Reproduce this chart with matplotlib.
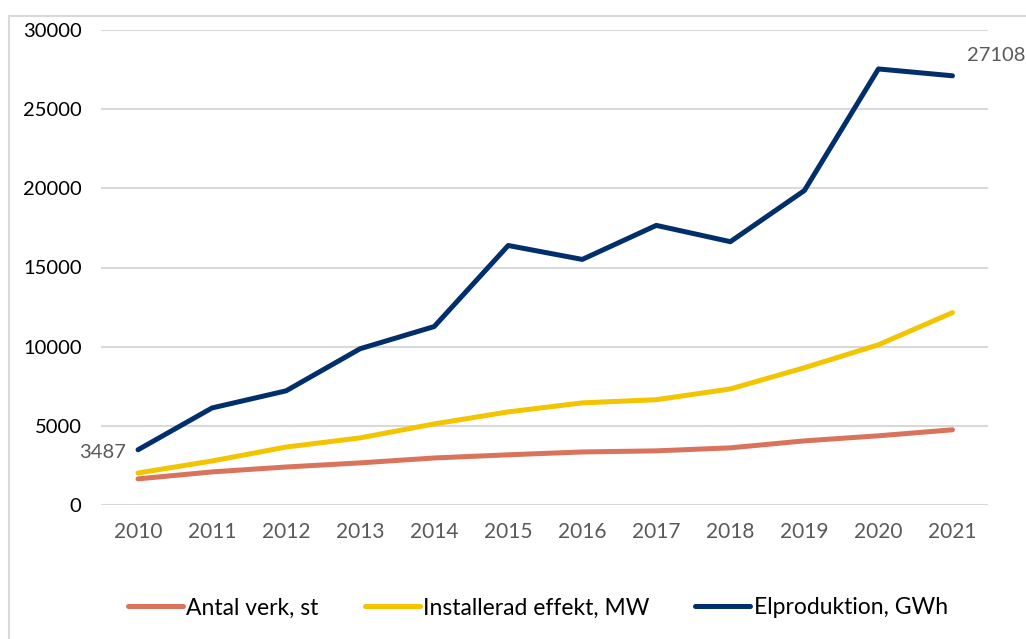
import matplotlib.pyplot as plt
from matplotlib.patches import Rectangle
import numpy as np

plt.rcParams['font.family'] = ['Lato', 'DejaVu Sans']

years = ['2010', '2011', '2012', '2013', '2014', '2015',
         '2016', '2017', '2018', '2019', '2020', '2021']
antal_verk = [1650, 2090, 2400, 2660, 2970, 3170, 3350, 3420, 3610, 4050, 4370, 4750]
installerad = [2020, 2780, 3660, 4240, 5120, 5880, 6450, 6650, 7330, 8670, 10120, 12150]
elproduktion = [3487, 6130, 7210, 9870, 11270, 16390, 15510, 17660, 16630, 19860, 27540, 27108]

COL_ANTAL = '#D9735B'
COL_INST = '#F2C500'
COL_EL = '#002F6C'


def main():
    fig = plt.figure(figsize=(10.26, 6.39), dpi=100)
    ax = fig.add_axes([101 / 1026, 134 / 639, 887 / 1026, 475 / 639])

    # outer frame, cut off at right and bottom like the screenshot
    fig.patches.append(Rectangle((9 / 1026, -0.1), 1.2, (623 / 639) + 0.1,
                                 transform=fig.transFigure, fill=False,
                                 edgecolor='#d9d9d9', lw=1.5))

    x = np.arange(len(years))
    ax.plot(x, antal_verk, color=COL_ANTAL, lw=3.6, solid_capstyle='round',
            label='Antal verk, st')
    ax.plot(x, installerad, color=COL_INST, lw=3.6, solid_capstyle='round',
            label='Installerad effekt, MW')
    ax.plot(x, elproduktion, color=COL_EL, lw=3.6, solid_capstyle='round',
            label='Elproduktion, GWh')

    ax.annotate(str(elproduktion[0]), (x[0], elproduktion[0]),
                xytext=(-12, -3), textcoords='offset pixels',
                ha='right', va='center', fontsize=14.5, color='#595959')
    ax.annotate(str(elproduktion[-1]), (x[-1], elproduktion[-1]),
                xytext=(15, 20), textcoords='offset pixels',
                ha='left', va='center', fontsize=14.5, color='#595959')

    ax.set_xlim(-0.5, len(years) - 0.52)
    ax.set_ylim(0, 30000)
    ax.set_yticks(range(0, 30001, 5000))
    ax.set_xticks(x)
    ax.set_xticklabels(years)
    ax.grid(axis='y', color='#d9d9d9', lw=1.5)
    ax.set_axisbelow(True)
    for s in ax.spines.values():
        s.set_visible(False)
    ax.tick_params(axis='both', length=0)
    ax.tick_params(axis='y', labelsize=14.5, labelcolor='black', pad=14)
    ax.tick_params(axis='x', labelsize=15, labelcolor='#595959', pad=12)

    fig.legend(loc='center', bbox_to_anchor=(538 / 1026, 1 - 608 / 639),
               ncol=3, frameon=False, fontsize=16.5, handlelength=2.4,
               handletextpad=0.15, columnspacing=2.0)

    fig.savefig('out.png', dpi=100)


if __name__ == '__main__':
    main()
